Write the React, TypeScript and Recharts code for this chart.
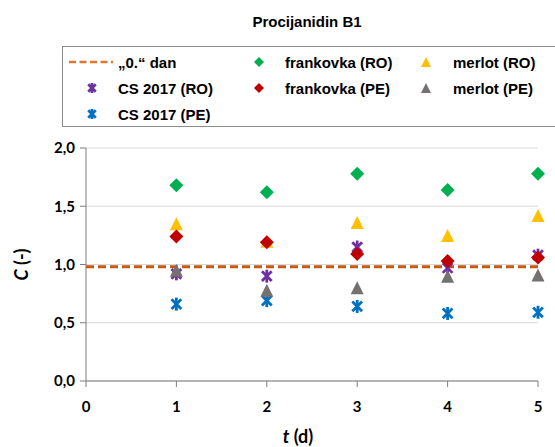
import React from "react";
import { ScatterChart, Scatter, XAxis, YAxis, CartesianGrid, Label } from "recharts";

// sampling days
const days = [1, 2, 3, 4, 5];

// "0." dan reference level, drawn across the whole x range
const day0Level = 0.98;
const day0Span = [0, 5];

// measured C (-) per day
const cs2017RO = [0.92, 0.9, 1.15, 0.97, 1.08];
const cs2017PE = [0.66, 0.69, 0.64, 0.58, 0.59];
const frankovkaRO = [1.68, 1.62, 1.78, 1.64, 1.78];
const frankovkaPE = [1.24, 1.19, 1.09, 1.03, 1.06];
const merlotRO = [1.35, 1.2, 1.36, 1.25, 1.42];
const merlotPE = [0.95, 0.78, 0.8, 0.9, 0.91];

const xTicks = [0, 1, 2, 3, 4, 5];
const yTicks = [0, 0.5, 1, 1.5, 2];

type Kind = "diamond" | "triangle" | "star";

interface SeriesDef {
  name: string;
  values: number[];
  color: string;
  kind: Kind;
}

// drawing order (later ones sit on top)
const series: SeriesDef[] = [
  { name: "CS 2017 (RO)", values: cs2017RO, color: "#7030A0", kind: "star" },
  { name: "CS 2017 (PE)", values: cs2017PE, color: "#0070C0", kind: "star" },
  { name: "merlot (RO)", values: merlotRO, color: "#FFC000", kind: "triangle" },
  { name: "merlot (PE)", values: merlotPE, color: "#767171", kind: "triangle" },
  { name: "frankovka (RO)", values: frankovkaRO, color: "#00B050", kind: "diamond" },
  { name: "frankovka (PE)", values: frankovkaPE, color: "#C00000", kind: "diamond" },
];

const DAY0_COLOR = "#C65911";
const AXIS_COLOR = "#7F7F7F";
const AXIS_FONT = "Lato, 'Open Sans', sans-serif";
const LEGEND_FONT = "'Liberation Sans', Arial, sans-serif";

function marker(kind: Kind, color: string, cx: number, cy: number, r: number) {
  if (kind === "diamond") {
    return (
      <polygon
        points={`${cx},${cy - r} ${cx + r},${cy} ${cx},${cy + r} ${cx - r},${cy}`}
        fill={color}
      />
    );
  }
  if (kind === "triangle") {
    return (
      <polygon
        points={`${cx},${cy - r} ${cx + r},${cy + r} ${cx - r},${cy + r}`}
        fill={color}
      />
    );
  }
  const d = r * 0.75;
  return (
    <g stroke={color} strokeWidth={2.8} strokeLinecap="butt">
      <line x1={cx - d} y1={cy - d} x2={cx + d} y2={cy + d} />
      <line x1={cx - d} y1={cy + d} x2={cx + d} y2={cy - d} />
      <line x1={cx} y1={cy - r} x2={cx} y2={cy + r} />
    </g>
  );
}

const shapeFor = (kind: Kind, color: string) => (props: any) =>
  marker(kind, color, props.cx, props.cy, kind === "diamond" ? 7 : 6.5);

const toPoints = (values: number[]) => days.map((d, i) => ({ x: d, y: values[i] }));
const day0Points = day0Span.map((x) => ({ x, y: day0Level }));

// legend grid: symbol / text x per column, centre y per row
const legendCols = [
  { sym: 92, text: 118 },
  { sym: 259, text: 285 },
  { sym: 426, text: 453 },
];
const legendRows = [62, 88, 114];

function LegendBox() {
  const byName = (n: string) => series.find((s) => s.name === n)!;
  const cells: { name: string; col: number; row: number }[] = [
    { name: "CS 2017 (RO)", col: 0, row: 1 },
    { name: "CS 2017 (PE)", col: 0, row: 2 },
    { name: "frankovka (RO)", col: 1, row: 0 },
    { name: "frankovka (PE)", col: 1, row: 1 },
    { name: "merlot (RO)", col: 2, row: 0 },
    { name: "merlot (PE)", col: 2, row: 1 },
  ];
  return (
    <svg
      width={555}
      height={447}
      style={{ position: "absolute", left: 0, top: 0, pointerEvents: "none" }}
    >
      <rect x={62.5} y={46.5} width={500} height={80} fill="none" stroke="#8C8C8C" strokeWidth={1} />
      <line
        x1={69}
        x2={113}
        y1={legendRows[0]}
        y2={legendRows[0]}
        stroke="#E2762F"
        strokeWidth={2.5}
        strokeDasharray="7 3.5"
      />
      <text x={legendCols[0].text} y={legendRows[0] + 5.5} fontFamily={LEGEND_FONT} fontWeight="bold" fontSize={15}>
        „0.“ dan
      </text>
      {cells.map((c) => {
        const s = byName(c.name);
        const y = legendRows[c.row];
        return (
          <g key={c.name}>
            {marker(s.kind, s.color, legendCols[c.col].sym, y, 5)}
            <text x={legendCols[c.col].text} y={y + 5.5} fontFamily={LEGEND_FONT} fontWeight="bold" fontSize={15}>
              {c.name}
            </text>
          </g>
        );
      })}
    </svg>
  );
}

export default function App() {
  return (
    <div style={{ position: "absolute", left: 0, top: 0, width: 555, height: 447, background: "#fff" }}>
      <div
        style={{
          position: "absolute",
          left: 0,
          width: 614,
          top: 14,
          textAlign: "center",
          fontFamily: LEGEND_FONT,
          fontWeight: "bold",
          fontSize: 15,
          lineHeight: "15px",
        }}
      >
        Procijanidin B1
      </div>
      <ScatterChart width={555} height={447} margin={{ top: 148, right: 17, bottom: 16, left: 26 }}>
        <CartesianGrid vertical={false} stroke="#D9D9D9" strokeWidth={1} />
        <XAxis
          type="number"
          dataKey="x"
          domain={[0, 5]}
          ticks={xTicks}
          height={50}
          stroke={AXIS_COLOR}
          tickSize={6}
          tickMargin={14}
          tick={{ fill: "#000", fontFamily: AXIS_FONT, fontWeight: "bold", fontSize: 15 }}
        >
          <Label
            content={({ viewBox }: any) => (
              <text
                x={viewBox.x + viewBox.width / 2 - 14}
                y={443}
                textAnchor="middle"
                fontFamily={AXIS_FONT}
                fontWeight="bold"
                fontSize={18}
                fill="#000"
              >
                <tspan fontStyle="italic">t</tspan> (d)
              </text>
            )}
          />
        </XAxis>
        <YAxis
          type="number"
          dataKey="y"
          domain={[0, 2]}
          ticks={yTicks}
          width={60}
          stroke={AXIS_COLOR}
          tickSize={6}
          tickMargin={5}
          tickFormatter={(v: number) => v.toFixed(1).replace(".", ",")}
          tick={{ fill: "#000", fontFamily: AXIS_FONT, fontWeight: "bold", fontSize: 15 }}
        >
          <Label
            content={({ viewBox }: any) => {
              const cx = 28;
              const cy = viewBox.y + viewBox.height / 2;
              return (
                <text
                  x={cx}
                  y={cy}
                  transform={`rotate(-90 ${cx} ${cy})`}
                  textAnchor="middle"
                  fontFamily={AXIS_FONT}
                  fontWeight="bold"
                  fontSize={18}
                  fill="#000"
                >
                  <tspan fontStyle="italic">C</tspan> (-)
                </text>
              );
            }}
          />
        </YAxis>
        <Scatter
          name="„0.“ dan"
          data={day0Points}
          line={{ stroke: DAY0_COLOR, strokeWidth: 3, strokeDasharray: "8 4" }}
          shape={() => <g />}
          isAnimationActive={false}
        />
        {series.map((s) => (
          <Scatter
            key={s.name}
            name={s.name}
            data={toPoints(s.values)}
            fill={s.color}
            shape={shapeFor(s.kind, s.color)}
            isAnimationActive={false}
          />
        ))}
      </ScatterChart>
      <LegendBox />
    </div>
  );
}
